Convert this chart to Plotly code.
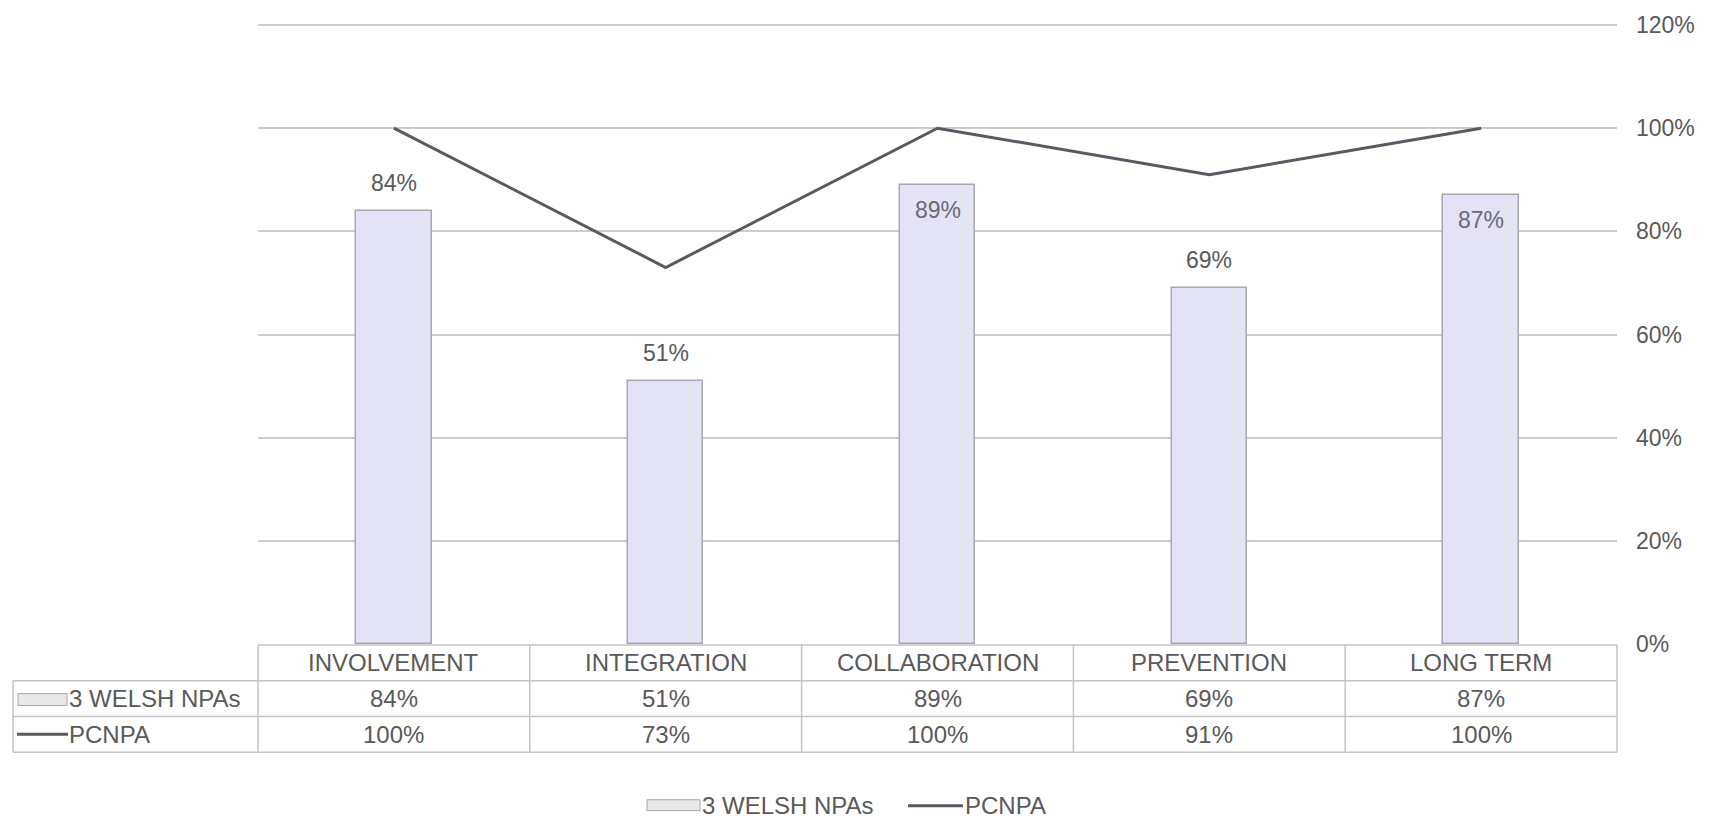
import plotly.graph_objects as go

# Chart data
categories = ["INVOLVEMENT", "INTEGRATION", "COLLABORATION", "PREVENTION", "LONG TERM"]
welsh_npas = [0.84, 0.51, 0.89, 0.69, 0.87]
pcnpa = [1.00, 0.73, 1.00, 0.91, 1.00]
series_names = ["3 WELSH NPAs", "PCNPA"]
label_inside = [False, False, True, False, True]
y_ticks = [0, 0.2, 0.4, 0.6, 0.8, 1.0, 1.2]

W, H = 1714, 821
ML, MR, MT, MB = 258, 97, 19, 177
PW, PH = W - ML - MR, H - MT - MB

FONT = "Liberation Sans, Arial, sans-serif"
TXT = "#595959"
GRID = "#cccccc"
BORDER = "#c4c4c4"
BAR_FILL = "#e4e2f5"
BAR_LINE = "#a8a8b0"
LINE_COL = "#5a5963"
FS_TICK = 23
FS_LABEL = 23
FS_TABLE = 24


def px_x(px):
    return (px - ML) / PW


def px_y(py):
    return (H - MB - py) / PH


fig = go.Figure()

fig.add_trace(go.Bar(
    x=categories, y=welsh_npas, name=series_names[0],
    width=0.277,
    marker=dict(color=BAR_FILL, line=dict(color=BAR_LINE, width=1.5)),
    showlegend=False, hoverinfo="x+y",
))

fig.add_trace(go.Scatter(
    x=categories, y=pcnpa, name=series_names[1], mode="lines",
    line=dict(color=LINE_COL, width=3),
    showlegend=False,
))

annotations = []
shapes = []

# value labels on the bars
for cat, v, inside in zip(categories, welsh_npas, label_inside):
    annotations.append(dict(
        x=cat, y=v, xref="x", yref="y", text=f"{round(v * 100)}%",
        showarrow=False, xanchor="center",
        font=dict(family=FONT, size=FS_LABEL, color="#6a6a74" if inside else TXT),
        yanchor="top" if inside else "bottom",
        yshift=-10 if inside else 13,
    ))

# data table below the plot
row_edges = [645, 681, 717, 753]
col_w = PW / len(categories)
col_edges = [ML + i * col_w for i in range(len(categories) + 1)]
left_edge = 13
line_style = dict(color=BORDER, width=1.5)

# horizontal rules
shapes.append(dict(type="line", xref="paper", yref="paper",
                   x0=px_x(ML), x1=px_x(col_edges[-1]),
                   y0=px_y(row_edges[0]), y1=px_y(row_edges[0]), line=line_style))
for r in row_edges[1:]:
    shapes.append(dict(type="line", xref="paper", yref="paper",
                       x0=px_x(left_edge), x1=px_x(col_edges[-1]),
                       y0=px_y(r), y1=px_y(r), line=line_style))
# vertical rules
shapes.append(dict(type="line", xref="paper", yref="paper",
                   x0=px_x(left_edge), x1=px_x(left_edge),
                   y0=px_y(row_edges[1]), y1=px_y(row_edges[-1]), line=line_style))
for c in col_edges:
    shapes.append(dict(type="line", xref="paper", yref="paper",
                       x0=px_x(c), x1=px_x(c),
                       y0=px_y(row_edges[0]), y1=px_y(row_edges[-1]), line=line_style))


def cell_text(x, y, text, anchor="center"):
    annotations.append(dict(x=px_x(x), y=px_y(y), xref="paper", yref="paper",
                            text=text, showarrow=False, borderpad=0,
                            xanchor=anchor, yanchor="middle",
                            font=dict(family=FONT, size=FS_TABLE, color=TXT)))


row_mid = [(row_edges[i] + row_edges[i + 1]) / 2 for i in range(3)]
for i, cat in enumerate(categories):
    cx = (col_edges[i] + col_edges[i + 1]) / 2
    cell_text(cx, row_mid[0], cat)
    cell_text(cx, row_mid[1], f"{round(welsh_npas[i] * 100)}%")
    cell_text(cx, row_mid[2], f"{round(pcnpa[i] * 100)}%")


def bar_key(x0, x1, y0, y1):
    shapes.append(dict(type="rect", xref="paper", yref="paper",
                       x0=px_x(x0), x1=px_x(x1), y0=px_y(y0), y1=px_y(y1),
                       fillcolor="#e8e8ea", line=dict(color="#a8a8a8", width=1)))


def line_key(x0, x1, y):
    shapes.append(dict(type="line", xref="paper", yref="paper",
                       x0=px_x(x0), x1=px_x(x1), y0=px_y(y), y1=px_y(y),
                       line=dict(color=LINE_COL, width=3)))


# legend keys inside the table
bar_key(18, 67, 694, 706)
cell_text(68, row_mid[1], series_names[0], anchor="left")
line_key(17, 68, 735)
cell_text(68, row_mid[2], series_names[1], anchor="left")

# legend below the table
legend_y = 807
bar_key(647, 700, legend_y - 6, legend_y + 5)
cell_text(701, legend_y, series_names[0], anchor="left")
line_key(908, 963, legend_y)
cell_text(964, legend_y, series_names[1], anchor="left")

fig.update_layout(
    width=W, height=H,
    margin=dict(l=ML, r=MR, t=MT, b=MB),
    paper_bgcolor="white", plot_bgcolor="white",
    font=dict(family=FONT, size=FS_TICK, color=TXT),
    showlegend=False,
    bargap=0,
    xaxis=dict(type="category", range=[-0.5, len(categories) - 0.5],
               showticklabels=False, showgrid=False, zeroline=False,
               showline=False, fixedrange=True),
    yaxis=dict(side="right", range=[0, 1.202], tickvals=y_ticks,
               tickformat=".0%", showgrid=True, gridcolor=GRID, gridwidth=1.5,
               zeroline=False, showline=False, ticks="",
               ticklabelstandoff=18,
               tickfont=dict(family=FONT, size=FS_TICK, color=TXT)),
    shapes=shapes,
    annotations=annotations,
)

fig.write_html("out.html")
